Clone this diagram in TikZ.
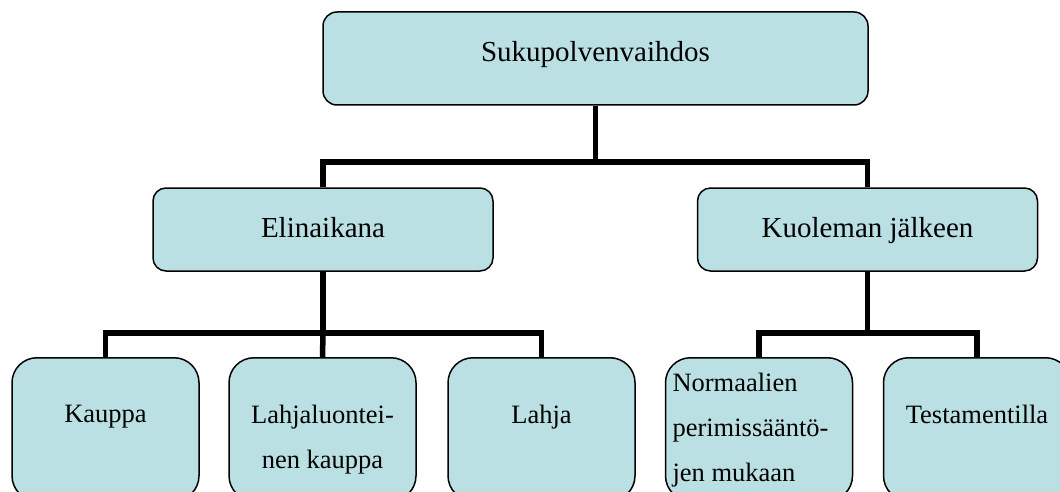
\documentclass[tikz,border=0pt]{standalone}
\usepackage{fontspec}
\setmainfont{Liberation Serif}
\usetikzlibrary{positioning}

\definecolor{boxblue}{RGB}{187,224,228}

\begin{document}
\begin{tikzpicture}[x=1pt,y=-1pt,
every node/.style={rectangle, draw=black, line width=1.5pt, fill=boxblue,
        align=center, inner sep=0pt},
root/.style={rounded corners=14pt, minimum width=545pt, minimum height=93pt,
        font=\fontsize{29}{35}\selectfont, text height=20pt, text depth=13pt},
branch/.style={rounded corners=13pt, minimum width=340pt, minimum height=83pt,
        font=\fontsize{29}{35}\selectfont, text height=20pt, text depth=5pt},
leaf/.style={rounded corners=25pt, minimum width=187pt, minimum height=143pt, anchor=north},
leaftext/.style={draw=none, fill=none, anchor=north, font=\fontsize{26.5}{45}\selectfont},
link/.style={line width=5.5pt}
]
  \clip (0,0) rectangle (1060,492);

  % boxes
  \node[root] (root) at (595.5,58.5) {Sukupolvenvaihdos};
  \node[branch] (eli) at (323,229.5) {Elinaikana};
  \node[branch] (kuo) at (867.5,229.5) {Kuoleman jälkeen};
  \node[leaf] (kauppa) at (105.5,357) {};
  \node[leaf] (lahjak) at (322.5,357) {};
  \node[leaf] (lahja) at (541.5,357) {};
  \node[leaf] (normaali) at (759,357) {};
  \node[leaf] (testam) at (977,357) {};

  % leaf texts
  \node[leaftext, below=47pt of kauppa.north] (kauppaT) {Kauppa};
  \node[leaftext, below=47pt of lahjak.north] (lahjakT) {Lahjaluontei-\\nen kauppa};
  \node[leaftext, below=47pt of lahja.north] (lahjaT) {Lahja};
  \node[leaftext, align=left, below right=15pt and 7pt of normaali.north west] (normaaliT)
      {Normaalien\\perimissääntö-\\jen mukaan};
  \node[leaftext, below=47pt of testam.north] (testamT) {Testamentilla};

  % connectors
  \coordinate (topbar) at (595.5,162);
  \coordinate (elibar) at (323,333);
  \coordinate (kuobar) at (867.5,333);
  \draw[link] (root.south) -- (topbar);
  \draw[link] (eli.north) |- (topbar) -| (kuo.north);
  \draw[link] (eli.south) -- (elibar);
  \draw[link] (kauppa.north) |- (elibar) -| (lahja.north);
  \draw[link] (elibar) -- (lahjak.north);
  \draw[link] (kuo.south) -- (kuobar);
  \draw[link] (normaali.north) |- (kuobar) -| (testam.north);
\end{tikzpicture}
\end{document}
